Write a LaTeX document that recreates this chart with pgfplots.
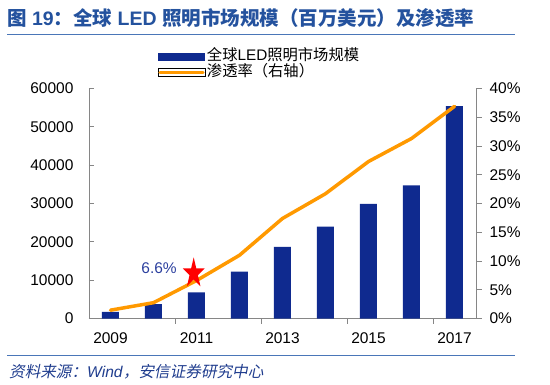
\documentclass[border=0pt]{standalone}
\usepackage{pgfplots}
\pgfplotsset{compat=1.18}
\usepackage{fontspec}
\setmainfont{Liberation Sans}
\newfontfamily\cjk{Noto Sans CJK SC}
\newfontfamily\cjkit[FakeSlant=0.2]{Noto Sans CJK SC}
\definecolor{barblue}{RGB}{15,42,143}
\definecolor{lineorange}{RGB}{255,153,0}
\definecolor{titleblue}{RGB}{36,82,158}
\definecolor{ruleblue}{RGB}{74,118,184}
\definecolor{srcblue}{RGB}{32,61,142}
\definecolor{labelblue}{RGB}{43,63,158}
\definecolor{axisgray}{RGB}{134,134,134}
\pgfdeclareplotmark{bigstar}{%
  \pgfpathmoveto{\pgfqpoint{0pt}{16pt}}%
  \pgfpathlineto{\pgfqpoint{-2.58pt}{4.94pt}}%
  \pgfpathlineto{\pgfqpoint{-10.94pt}{4.94pt}}%
  \pgfpathlineto{\pgfqpoint{-4.18pt}{-1.89pt}}%
  \pgfpathlineto{\pgfqpoint{-6.76pt}{-12.94pt}}%
  \pgfpathlineto{\pgfqpoint{0pt}{-6.11pt}}%
  \pgfpathlineto{\pgfqpoint{6.76pt}{-12.94pt}}%
  \pgfpathlineto{\pgfqpoint{4.18pt}{-1.89pt}}%
  \pgfpathlineto{\pgfqpoint{10.94pt}{4.94pt}}%
  \pgfpathlineto{\pgfqpoint{2.58pt}{4.94pt}}%
  \pgfpathclose
  \pgfusepathqfill
}
\begin{document}
\begin{tikzpicture}
\useasboundingbox (0,0) rectangle (550pt,384pt);
\node[anchor=west, text=titleblue, font=\fontsize{19.5}{22}\selectfont\bfseries, inner sep=0pt] at (7pt,366pt)
  {{\cjk\bfseries 图} 19{\cjk\bfseries ：全球} LED {\cjk\bfseries 照明市场规模（百万美元）及渗透率}};
\draw[ruleblue, line width=1.2pt] (7pt,349.5pt) -- (515pt,349.5pt);
\draw[ruleblue, line width=1.2pt] (7pt,28.5pt) -- (515pt,28.5pt);
\node[anchor=west, text=srcblue, font=\fontsize{15.6}{17}\selectfont, inner sep=0pt] at (9pt,12pt)
  {{\cjkit 资料来源：}\textit{Wind}{\cjkit ，安信证券研究中心}};

\begin{axis}[
  at={(89pt,65.5pt)}, anchor=south west, scale only axis,
  width=387pt, height=230pt,
  xmin=-0.5, xmax=8.5, ymin=0, ymax=60000,
  axis x line*=bottom, axis y line*=left,
  axis line style={draw=axisgray, line width=0.8pt, -},
  xtick={1.5,3.5,5.5,7.5}, xticklabels={},
  extra x ticks={0,2,4,6,8},
  extra x tick labels={2009,2011,2013,2015,2017},
  extra x tick style={major tick length=0pt},
  ytick={0,10000,...,60000},
  tick align=outside, major tick length=5pt,
  tick style={draw=axisgray, line width=0.8pt},
  y tick style={xshift=5pt},
  scaled y ticks=false,
  /pgf/number format/set thousands separator={},
  /pgf/number format/assume math mode=true,
  tick label style={font=\fontsize{15.5}{18}\selectfont, text=black},
  xticklabel style={yshift=-11pt},
  yticklabel style={xshift=-7pt},
  legend style={at={(axis description cs:0.178,1.172)}, anchor=north west,
    draw=none, fill=none, font=\fontsize{15.3}{17}\selectfont,
    cells={anchor=west}, row sep=0.8pt, inner sep=0pt, column sep=2pt,
    nodes={inner sep=0pt, text height=11.5pt, text depth=3.5pt}},
]
\addplot[ybar, fill=barblue, draw=none, bar width=17pt,
  legend image code/.code={\path (-1.75pt,-4pt) rectangle (44.75pt,4pt);
    \fill[barblue] (1.5pt,-3.3pt) rectangle (41.5pt,3.3pt);}]
  coordinates {(0,1750) (1,3750) (2,6800) (3,12200) (4,18700) (5,24000) (6,29900) (7,34700) (8,55400)};
\addlegendentry{{\cjk 全球}LED{\cjk 照明市场规模}}
\addlegendimage{legend image code/.code={\path (-1.75pt,-4pt) rectangle (44.75pt,4pt);
    \draw[lineorange, line width=3.3pt, line cap=round] (0pt,0pt) -- (43pt,0pt);}}
\addlegendentry{{\cjk 渗透率（右轴）}}
\end{axis}

\begin{axis}[
  at={(89pt,65.5pt)}, anchor=south west, scale only axis,
  width=387pt, height=230pt,
  xmin=-0.5, xmax=8.5, ymin=0, ymax=40,
  axis y line*=right, axis x line=none,
  axis line style={draw=axisgray, line width=0.8pt, -},
  ytick={0,5,...,40},
  yticklabel={\pgfmathprintnumber{\tick}\%},
  tick align=outside, major tick length=6pt,
  tick style={draw=axisgray, line width=0.8pt},
  /pgf/number format/assume math mode=true,
  tick label style={font=\fontsize{15.5}{18}\selectfont, text=black},
  yticklabel style={xshift=4pt},
  clip=false,
]
\addplot[lineorange, line width=3.5pt, line join=round, line cap=round]
  coordinates {(0,1.45) (1,2.75) (2,6.6) (3,11.0) (4,17.4) (5,21.7) (6,27.3) (7,31.3) (8,36.9)};
\addplot[only marks, mark=bigstar, red] coordinates {(1.935,7.85)};
\node[anchor=east, text=labelblue, font=\fontsize{15.5}{18}\selectfont, inner sep=0pt] at (axis cs:1.546,8.75) {6.6\%};
\end{axis}
\end{tikzpicture}
\end{document}
